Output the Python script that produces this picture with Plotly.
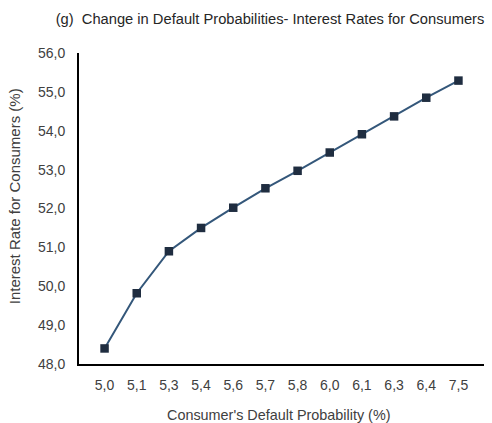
import plotly.graph_objects as go

categories = ["5,0", "5,1", "5,3", "5,4", "5,6", "5,7", "5,8", "6,0", "6,1", "6,3", "6,4", "7,5"]
interest_rates = [48.40, 49.82, 50.90, 51.50, 52.02, 52.52, 52.97, 53.44, 53.91, 54.37, 54.85, 55.29]
y_ticks = [48, 49, 50, 51, 52, 53, 54, 55, 56]
y_tick_labels = ["48,0", "49,0", "50,0", "51,0", "52,0", "53,0", "54,0", "55,0", "56,0"]

fig = go.Figure()
fig.add_trace(go.Scatter(
    x=categories, y=interest_rates, mode="lines+markers",
    line=dict(color="#34577a", width=2),
    marker=dict(symbol="square", size=8.5, color="#1f2d40"),
    cliponaxis=False,
))

font = "Liberation Sans, Arial, sans-serif"
fig.update_layout(
    width=492, height=423,
    margin=dict(l=79, r=8, t=53, b=59),
    paper_bgcolor="white", plot_bgcolor="white",
    showlegend=False,
    font=dict(family=font, size=14, color="#404040"),
    title=dict(text="(g)  Change in Default Probabilities- Interest Rates for Consumers",
               x=0.5488, xanchor="center", y=0.955, yanchor="middle",
               font=dict(family=font, size=14.7, color="#262626")),
    xaxis=dict(type="category", categoryorder="array", categoryarray=categories,
               showline=True, linecolor="#000000", linewidth=2,
               showgrid=False, ticks="", ticklen=0, automargin=False,
               ticklabelstandoff=7,
               tickfont=dict(size=14, color="#404040")),
    yaxis=dict(range=[48, 56], tickvals=y_ticks, ticktext=y_tick_labels,
               showline=True, linecolor="#000000", linewidth=2,
               showgrid=False, zeroline=False, ticks="", ticklen=0, automargin=False,
               ticklabelstandoff=9,
               tickfont=dict(size=14, color="#404040")),
    annotations=[
        dict(text="Consumer's Default Probability (%)", xref="paper", yref="paper",
             x=0.4926, y=-0.164, xanchor="center", yanchor="middle", showarrow=False,
             font=dict(family=font, size=14.4, color="#404040")),
        dict(text="Interest Rate for Consumers (%)", xref="paper", yref="paper",
             x=-0.160, y=0.540, xanchor="center", yanchor="middle", showarrow=False,
             textangle=-90, font=dict(family=font, size=15, color="#404040")),
    ],
)

fig.write_html("out.html", config={"displayModeBar": False},
               post_script="document.body.style.margin='0px';")
